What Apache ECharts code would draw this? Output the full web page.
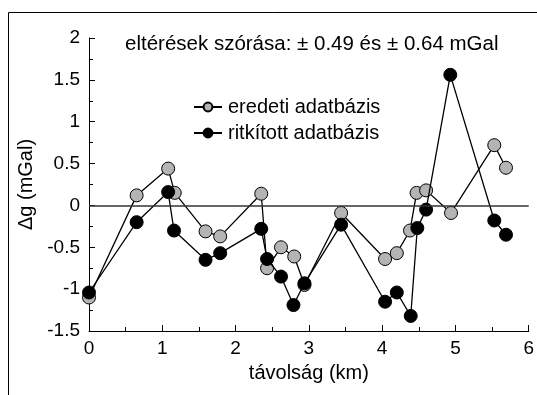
<!DOCTYPE html>
<html>
<head>
<meta charset="utf-8">
<script src="https://cdn.jsdelivr.net/npm/echarts@6/dist/echarts.min.js"></script>
<style>
html,body{margin:0;padding:0;background:#fff;}
#c{width:537px;height:395px;}
</style>
</head>
<body>
<div id="c"></div>
<script>
// Data
var seriesNames = ['eredeti adatbázis', 'ritkított adatbázis'];
var xOrig = [0, 0.65, 1.08, 1.17, 1.59, 1.79, 2.35, 2.43, 2.62, 2.80, 2.94, 3.44, 4.04, 4.20, 4.38, 4.47, 4.60, 4.94, 5.53, 5.69];
var yOrig = [-1.10, 0.12, 0.44, 0.15, -0.31, -0.37, 0.14, -0.75, -0.50, -0.61, -0.95, -0.09, -0.64, -0.57, -0.30, 0.15, 0.18, -0.09, 0.72, 0.45];
var xThin = [0, 0.65, 1.08, 1.16, 1.59, 1.79, 2.35, 2.43, 2.62, 2.79, 2.94, 3.44, 4.04, 4.20, 4.39, 4.48, 4.60, 4.93, 5.53, 5.69];
var yThin = [-1.04, -0.20, 0.16, -0.30, -0.65, -0.57, -0.28, -0.64, -0.85, -1.19, -0.93, -0.23, -1.15, -1.04, -1.32, -0.27, -0.05, 1.56, -0.18, -0.35];
var xTicks = [0, 1, 2, 3, 4, 5, 6];
var yTicks = [-1.5, -1, -0.5, 0, 0.5, 1, 1.5, 2];
var titleText = 'eltérések szórása: ± 0.49 és ± 0.64 mGal';
var xName = 'távolság (km)';
var yName = 'Δg (mGal)';

function pairs(xs, ys) { return xs.map(function (x, i) { return [x, ys[i]]; }); }

var FONT = 'Liberation Sans, Arial, sans-serif';
var chart = echarts.init(document.getElementById('c'), null, {renderer: 'canvas'});
chart.setOption({
  animation: false,
  backgroundColor: '#fff',
  textStyle: {fontFamily: FONT},
  graphic: [{
    type: 'rect', silent: true, z: -1,
    shape: {x: 8.5, y: 12.5, width: 600, height: 500},
    style: {fill: 'none', stroke: '#000', lineWidth: 1}
  }],
  title: {
    text: titleText, left: 125, top: 34, padding: 0,
    textStyle: {fontFamily: FONT, fontSize: 20.5, fontWeight: 'normal', color: '#000'}
  },
  legend: {
    orient: 'vertical', left: 193, top: 97, padding: 0,
    itemWidth: 28, itemHeight: 11, itemGap: 6,
    textStyle: {fontFamily: FONT, fontSize: 20, color: '#000', padding: [0, 0, 0, 1]},
    data: seriesNames
  },
  grid: {left: 89, right: 6, top: 38, bottom: 64, containLabel: false},
  xAxis: {
    type: 'value', min: xTicks[0], max: xTicks[xTicks.length - 1], interval: 1,
    name: xName, nameLocation: 'middle', nameGap: 32,
    nameTextStyle: {fontFamily: FONT, fontSize: 20, color: '#000'},
    axisLine: {onZero: false, lineStyle: {color: '#000', width: 1}},
    axisTick: {inside: true, length: 6, lineStyle: {color: '#000'}},
    minorTick: {show: true, splitNumber: 2, length: 4, lineStyle: {color: '#000'}},
    axisLabel: {fontFamily: FONT, fontSize: 19, color: '#000', margin: 8},
    splitLine: {show: false}
  },
  yAxis: {
    type: 'value', min: yTicks[0], max: yTicks[yTicks.length - 1], interval: 0.5,
    name: yName, nameLocation: 'middle', nameGap: 48, nameRotate: 90,
    nameTextStyle: {fontFamily: FONT, fontSize: 20, color: '#000'},
    axisLine: {show: true, onZero: false, lineStyle: {color: '#000', width: 1}},
    axisTick: {show: true, inside: true, length: 6, lineStyle: {color: '#000'}},
    minorTick: {show: true, splitNumber: 2, length: 4, lineStyle: {color: '#000'}},
    axisLabel: {fontFamily: FONT, fontSize: 19, color: '#000', margin: 9},
    splitLine: {show: false}
  },
  series: [{
    name: seriesNames[0], type: 'line', data: pairs(xOrig, yOrig),
    symbol: 'circle', symbolSize: 13,
    lineStyle: {color: '#000', width: 1.3},
    itemStyle: {color: '#b4b4b4', borderColor: '#000', borderWidth: 1},
    markLine: {
      silent: true, symbol: 'none', label: {show: false},
      lineStyle: {color: '#333', width: 1.5, type: 'solid'},
      data: [{yAxis: 0}]
    },
    z: 2
  }, {
    name: seriesNames[1], type: 'line', data: pairs(xThin, yThin),
    symbol: 'circle', symbolSize: 13,
    lineStyle: {color: '#000', width: 1.3},
    itemStyle: {color: '#000', borderColor: '#000', borderWidth: 1},
    z: 3
  }]
});
</script>
</body>
</html>
